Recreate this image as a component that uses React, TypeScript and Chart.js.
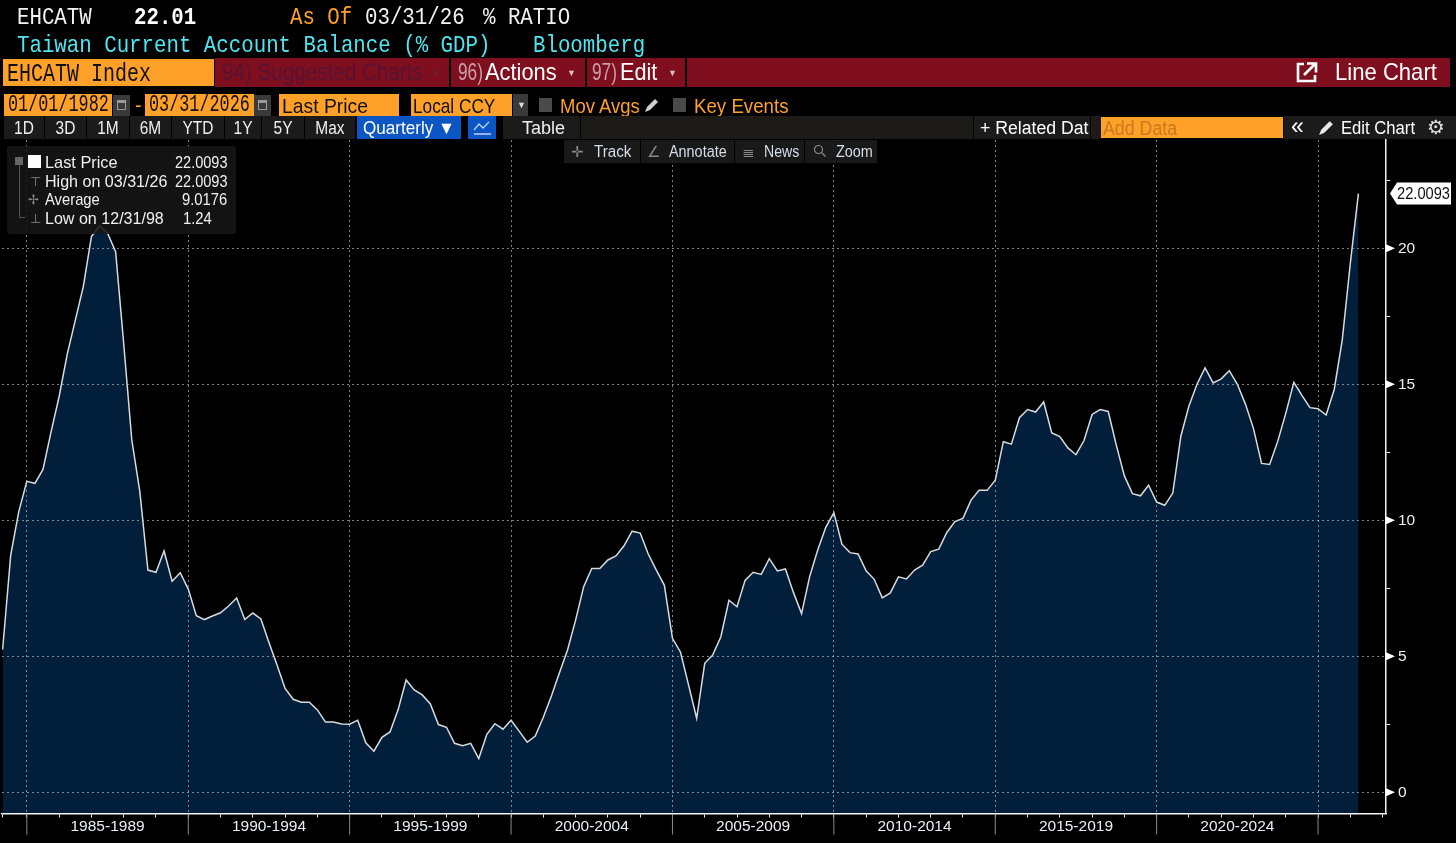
import React, { useEffect, useRef } from "react";
import { Chart, registerables } from "chart.js";

Chart.register(...registerables);

// Quarterly % of GDP, 03/31/1984 to 03/31/2026
const values = [
  5.25, 8.72, 10.32, 11.43, 11.36, 11.87, 13.25, 14.55, 16.1, 17.35, 18.6, 20.43,
  20.82, 20.55, 19.87, 16.5, 12.96, 11.05, 8.17, 8.09, 8.87, 7.76, 8.07, 7.47,
  6.49, 6.35, 6.48, 6.6, 6.85, 7.14, 6.35, 6.59, 6.37, 5.51, 4.68, 3.82,
  3.42, 3.31, 3.31, 3.03, 2.58, 2.58, 2.51, 2.5, 2.65, 1.82, 1.51, 2.02,
  2.22, 3.03, 4.13, 3.76, 3.58, 3.25, 2.49, 2.39, 1.8, 1.71, 1.8, 1.24,
  2.13, 2.52, 2.32, 2.65, 2.25, 1.84, 2.07, 2.76, 3.54, 4.39, 5.23, 6.33,
  7.56, 8.23, 8.23, 8.54, 8.69, 9.06, 9.6, 9.53, 8.76, 8.17, 7.61, 5.66,
  5.15, 3.94, 2.72, 4.74, 5.05, 5.72, 7.06, 6.82, 7.79, 8.09, 8.01, 8.59,
  8.14, 8.21, 7.34, 6.57, 7.93, 8.91, 9.74, 10.28, 9.12, 8.81, 8.76, 8.14,
  7.83, 7.15, 7.33, 7.92, 7.84, 8.17, 8.35, 8.85, 8.94, 9.55, 9.95, 10.07,
  10.74, 11.1, 11.1, 11.47, 12.89, 12.8, 13.77, 14.07, 13.98, 14.35, 13.21, 13.08,
  12.66, 12.41, 12.93, 13.89, 14.07, 14.0, 12.76, 11.63, 10.98, 10.9, 11.29, 10.67,
  10.55, 11.0, 13.09, 14.2, 15.0, 15.6, 15.05, 15.2, 15.5, 15.0, 14.27, 13.37,
  12.09, 12.05, 12.9, 13.93, 15.07, 14.59, 14.14, 14.1, 13.87, 14.8, 16.63, 19.45, 22.0093,
];
const periodLabels = ["1985-1989", "1990-1994", "1995-1999", "2000-2004", "2005-2009", "2010-2014", "2015-2019", "2020-2024"];
const yTicks = [0, 2.5, 5, 7.5, 10, 12.5, 15, 17.5, 20, 22.5];
const periodStarts = [3, 23, 43, 63, 83, 103, 123, 143, 163];
const yearMarks = [0, 3, 7, 11, 15, 19, 23, 27, 31, 35, 39, 43, 47, 51, 55, 59, 63, 67, 71, 75, 79, 83, 87, 91, 95, 99, 103, 107, 111, 115, 119, 123, 127, 131, 135, 139, 143, 147, 151, 155, 159, 163, 167, 171];
const lastValueText = "22.0093";

const SANS = '"Liberation Sans", Arial, sans-serif';
const MONO = '"Liberation Mono", monospace';

const chromePlugin = {
  id: "chrome",
  afterDraw(chart: any) {
    const { ctx, scales } = chart;
    const x = scales.x;
    const y = scales.y;
    const axisY = y.bottom;
    ctx.save();
    ctx.strokeStyle = "#8a8a8a";
    ctx.lineWidth = 1;
    periodStarts.forEach((p) => {
      const px = x.getPixelForValue(p);
      ctx.beginPath();
      ctx.moveTo(px, axisY + 1);
      ctx.lineTo(px, axisY + 21);
      ctx.stroke();
    });
    ctx.fillStyle = "#ffffff";
    yTicks.filter((t) => t % 5 === 0).forEach((t) => {
      const py = y.getPixelForValue(t);
      ctx.beginPath();
      ctx.moveTo(x.right, py - 4);
      ctx.lineTo(x.right + 9, py);
      ctx.lineTo(x.right, py + 4);
      ctx.closePath();
      ctx.fill();
    });
    const last = values[values.length - 1];
    const ly = y.getPixelForValue(last);
    const tx = x.right + 4;
    ctx.beginPath();
    ctx.moveTo(tx, ly);
    ctx.lineTo(tx + 7, ly - 11);
    ctx.lineTo(tx + 61, ly - 11);
    ctx.lineTo(tx + 61, ly + 11);
    ctx.lineTo(tx + 7, ly + 11);
    ctx.closePath();
    ctx.fill();
    ctx.fillStyle = "#101010";
    ctx.font = `17px ${SANS}`;
    ctx.textAlign = "left";
    ctx.textBaseline = "middle";
    ctx.fillText(lastValueText, tx + 7, ly + 0.5, 53);
    ctx.restore();
  },
};

function T({ x, y, c = "#fff", s = 17, f = SANS, sx = 1, b = false, children }: any) {
  return (
    <span
      style={{
        position: "absolute", left: x, top: y, color: c, fontSize: s, fontFamily: f,
        fontWeight: b ? 700 : 400, whiteSpace: "pre", lineHeight: 1,
        transform: `translateY(-50%) scaleX(${sx})`, transformOrigin: "left center",
      }}
    >
      {children}
    </span>
  );
}

function Box({ x, y, w, h, c }: any) {
  return <div style={{ position: "absolute", left: x, top: y, width: w, height: h, background: c }} />;
}

const ORANGE = "#ffa028";
const DARK = "#1b1b1b";
const RED = "#7f0f1e";
const timeButtons: [string, number, number][] = [
  ["1D", 4, 40], ["3D", 45, 41], ["1M", 87, 42], ["6M", 130, 41], ["YTD", 172, 52],
  ["1Y", 225, 36], ["5Y", 262, 42], ["Max", 305, 50],
];

function Cal({ x }: any) {
  return (
    <>
      <Box x={x} y={95} w={17} h={21} c="#3a3a3a" />
      <Box x={x + 4} y={100} w={9} h={10} c="#9a9a9a" />
      <Box x={x + 5} y={103} w={7} h={6} c="#3a3a3a" />
    </>
  );
}

function Header() {
  return (
    <div style={{ position: "absolute", inset: 0, overflow: "hidden" }}>
      <T x={17} y={18} s={24} f={MONO} sx={0.865} c="#f2f2f2">EHCATW</T>
      <T x={134} y={18} s={24} f={MONO} sx={0.865} b>22.01</T>
      <T x={290} y={18} s={24} f={MONO} sx={0.865} c={ORANGE}>As Of</T>
      <T x={365} y={18} s={24} f={MONO} sx={0.865} c="#f2f2f2">03/31/26</T>
      <T x={483} y={18} s={24} f={MONO} sx={0.865} c="#f2f2f2">% RATIO</T>
      <T x={17} y={46} s={24} f={MONO} sx={0.865} c="#4fe6f2">Taiwan Current Account Balance (% GDP)</T>
      <T x={533} y={46} s={24} f={MONO} sx={0.865} c="#4fe6f2">Bloomberg</T>

      <Box x={215} y={58} w={1235} h={29} c={RED} />
      <Box x={3} y={59} w={211} h={27} c={ORANGE} />
      <T x={7} y={74} s={25} f={MONO} sx={0.8} c="#111">EHCATW Index</T>
      <Box x={449} y={58} w={2} h={29} c="#000" />
      <Box x={585} y={58} w={2} h={29} c="#000" />
      <Box x={685} y={58} w={2} h={29} c="#000" />
      <T x={222} y={72} s={24} sx={0.86} c="#561332">94) Suggested Charts</T>
      <T x={431} y={73} s={9} c="#6a2038">▼</T>
      <T x={458} y={72} s={24} sx={0.72} c="#c8a0a8">96)</T>
      <T x={485} y={72} s={24} sx={0.91}>Actions</T>
      <T x={567} y={73} s={9} c="#d8c0c4">▼</T>
      <T x={592} y={72} s={24} sx={0.72} c="#c8a0a8">97)</T>
      <T x={620} y={72} s={24} sx={0.9}>Edit</T>
      <T x={668} y={73} s={9} c="#d8c0c4">▼</T>
      <svg style={{ position: "absolute", left: 1296, top: 61 }} width="22" height="22" viewBox="0 0 22 22" fill="none" stroke="#fff" strokeWidth="2.6">
        <path d="M8 3H2v17h17v-6" />
        <path d="M8 14 19 3M11 2.5h9v9" />
      </svg>
      <T x={1335} y={72} s={24} sx={0.92}>Line Chart</T>

      <Box x={4} y={94} w={108} h={22} c={ORANGE} />
      <T x={8} y={105} s={24} f={MONO} sx={0.7} c="#111">01/01/1982</T>
      <Cal x={113} />
      <T x={135} y={105} s={20} c={ORANGE}>-</T>
      <Box x={145} y={94} w={109} h={22} c={ORANGE} />
      <T x={149} y={105} s={24} f={MONO} sx={0.7} c="#111">03/31/2026</T>
      <Cal x={254} />
      <Box x={279} y={94} w={120} h={22} c={ORANGE} />
      <T x={282} y={104.5} s={21} sx={0.92} c="#111">Last Price</T>
      <Box x={411} y={94} w={101} h={22} c={ORANGE} />
      <T x={413} y={104.5} s={21} sx={0.82} c="#111">Local CCY</T>
      <Box x={513} y={94} w={15} h={22} c="#3a3a3a" />
      <T x={517} y={105} s={9} c="#ddd">▼</T>
      <Box x={539} y={98} w={13} h={14} c="#4a4a4a" />
      <T x={560} y={104.5} s={21} sx={0.88} c={ORANGE}>Mov Avgs</T>
      <svg style={{ position: "absolute", left: 644, top: 97 }} width="16" height="16" viewBox="0 0 16 16" fill="#d0d0d0">
        <path d="M1 15l2-5 8-8 3 3-8 8z" />
      </svg>
      <Box x={673} y={98} w={13} h={14} c="#4a4a4a" />
      <T x={694} y={104.5} s={21} sx={0.89} c={ORANGE}>Key Events</T>

      {timeButtons.map(([label, x, w]) => (
        <React.Fragment key={label}>
          <Box x={x} y={116} w={w} h={23} c={DARK} />
          <span style={{ position: "absolute", left: x, width: w, top: 127.5, transform: "translateY(-50%) scaleX(0.86)", textAlign: "center", color: "#eee", fontSize: 18, fontFamily: SANS, lineHeight: 1 }}>{label}</span>
        </React.Fragment>
      ))}
      <Box x={357} y={116} w={104} h={23} c="#0b56c4" />
      <T x={363} y={127.5} s={18} sx={0.95}>Quarterly ▼</T>
      <Box x={468} y={116} w={28} h={23} c="#0b56c4" />
      <svg style={{ position: "absolute", left: 473, top: 119 }} width="19" height="17" viewBox="0 0 19 17" fill="none" stroke="#bcd4ff" strokeWidth="1.3">
        <path d="M1 11l5-6 4 4 6-6M1 15h17" />
      </svg>
      <Box x={503} y={116} w={77} h={23} c={DARK} />
      <T x={522} y={127.5} s={18} c="#eee">Table</T>
      <Box x={581} y={116} w={392} h={23} c="#1d1b18" />
      <Box x={974} y={116} w={116} h={23} c={DARK} />
      <T x={980} y={127.5} s={18} sx={0.98}>+ Related Dat</T>
      <Box x={1091} y={116} w={10} h={23} c="#1d1b18" />
      <Box x={1101} y={117} w={182} h={21} c={ORANGE} />
      <T x={1103} y={127.5} s={20} sx={0.89} c="#c87a20">Add Data</T>
      <Box x={1284} y={116} w={172} h={23} c={DARK} />
      <T x={1291} y={126} s={23}>«</T>
      <svg style={{ position: "absolute", left: 1318, top: 119 }} width="17" height="17" viewBox="0 0 16 16" fill="#e8e8e8">
        <path d="M1 15l2-5 8-8 3 3-8 8z" />
      </svg>
      <T x={1341} y={127.5} s={18} sx={0.925}>Edit Chart</T>
      <T x={1427} y={127} s={20} f='"DejaVu Sans", sans-serif' c="#ddd">⚙</T>

      <div style={{ position: "absolute", left: 564, top: 140, width: 76, height: 23, background: "rgba(28,28,28,0.9)" }} />
      <div style={{ position: "absolute", left: 641, top: 140, width: 93, height: 23, background: "rgba(28,28,28,0.9)" }} />
      <div style={{ position: "absolute", left: 735, top: 140, width: 69, height: 23, background: "rgba(28,28,28,0.9)" }} />
      <div style={{ position: "absolute", left: 805, top: 140, width: 72, height: 23, background: "rgba(28,28,28,0.9)" }} />
      <T x={571} y={151} s={15} c="#8a8a8a">✛</T>
      <T x={594} y={151.5} s={16} sx={0.95} c="#d4dde6">Track</T>
      <T x={647} y={151} s={15} c="#8a8a8a">∠</T>
      <T x={669} y={151.5} s={16} sx={0.9} c="#d4dde6">Annotate</T>
      <T x={742} y={151} s={15} c="#8a8a8a">≣</T>
      <T x={764} y={151.5} s={16} sx={0.88} c="#d4dde6">News</T>
      <svg style={{ position: "absolute", left: 813, top: 144 }} width="14" height="14" viewBox="0 0 14 14" fill="none" stroke="#8a8a8a" strokeWidth="1.2">
        <circle cx="5.5" cy="5.5" r="4" />
        <path d="M8.5 8.5l4 4" />
      </svg>
      <T x={836} y={151.5} s={16} sx={0.9} c="#d4dde6">Zoom</T>

      <div style={{ position: "absolute", left: 7, top: 146, width: 229, height: 88, background: "rgba(22,22,22,0.88)", borderRadius: 3 }} />
      <Box x={15} y={157} w={8} h={8} c="#666" />
      <Box x={19} y={165} w={1} h={52} c="#555" />
      <Box x={19} y={217} w={6} h={1} c="#555" />
      <Box x={28} y={155} w={13} h={13} c="#fff" />
      <T x={30} y={181} s={13} c="#888">⊤</T>
      <T x={28} y={199} s={13} c="#888">✢</T>
      <T x={30} y={218} s={13} c="#888">⊥</T>
      <T x={45} y={162} s={17} sx={0.96} c="#f0f0f0">Last Price</T>
      <T x={45} y={181} s={17} sx={0.945} c="#f0f0f0">High on 03/31/26</T>
      <T x={45} y={199} s={17} sx={0.87} c="#f0f0f0">Average</T>
      <T x={45} y={218} s={17} sx={0.945} c="#f0f0f0">Low on 12/31/98</T>
      <T x={175} y={162} s={17} sx={0.855} c="#f0f0f0">22.0093</T>
      <T x={175} y={181} s={17} sx={0.855} c="#f0f0f0">22.0093</T>
      <T x={182} y={199} s={17} sx={0.87} c="#f0f0f0">9.0176</T>
      <T x={183} y={218} s={17} sx={0.87} c="#f0f0f0">1.24</T>
    </div>
  );
}

export default function App() {
  const ref = useRef<HTMLCanvasElement>(null);
  useEffect(() => {
    document.body.style.margin = "0";
    document.body.style.background = "#000";
    const labelAt = new Map(periodLabels.map((l, i) => [periodStarts[i] + 10, l]));
    const GRID = "rgba(205,205,205,0.62)";
    const chart = new Chart(ref.current!, {
      type: "line",
      data: {
        datasets: [
          {
            data: values.map((v, i) => ({ x: i, y: v })),
            borderColor: "#d8dbde",
            borderWidth: 1.5,
            pointRadius: 0,
            tension: 0,
            fill: "start",
            backgroundColor: "#011e3a",
          },
        ],
      },
      options: {
        animation: false,
        responsive: false,
        devicePixelRatio: 1,
        layout: { padding: { left: 2, top: 140, right: 0, bottom: 0 } },
        plugins: { legend: { display: false }, tooltip: { enabled: false } },
        scales: {
          x: {
            type: "linear",
            position: "bottom",
            min: -0.08,
            max: 171.42,
            afterFit(s: any) { s.height = 29.5; },
            afterBuildTicks(s: any) {
              s.ticks = [...yearMarks, ...labelAt.keys()].sort((a, b) => a - b).map((value) => ({ value }));
            },
            grid: {
              z: 1,
              lineWidth: 1,
              tickLength: 4,
              color: (c: any) => (periodStarts.includes(c.tick?.value) ? GRID : "transparent"),
              tickColor: (c: any) => (yearMarks.includes(c.tick?.value) ? "#f0f0f0" : "transparent"),
            },
            border: { display: true, color: "#f4f4f4", width: 1.5, dash: [2, 3], z: 1 },
            ticks: {
              autoSkip: false,
              maxRotation: 0,
              padding: 0,
              color: "#e8eff6",
              font: { family: SANS, size: 15.5 },
              callback: (v: any) => labelAt.get(v) ?? "",
            },
          },
          y: {
            type: "linear",
            position: "right",
            min: -0.78,
            max: 23.98,
            afterFit(s: any) { s.width = 70; },
            afterBuildTicks(s: any) { s.ticks = yTicks.map((value) => ({ value })); },
            grid: {
              z: 1,
              lineWidth: 1,
              tickLength: 4,
              color: (c: any) => (c.tick?.value % 5 === 0 ? GRID : "transparent"),
              tickColor: "#f0f0f0",
            },
            border: { display: true, color: "#f4f4f4", width: 1.5, dash: [2, 3], z: 1 },
            ticks: {
              autoSkip: false,
              padding: 8,
              color: "#e8eff6",
              font: { family: SANS, size: 15.5 },
              callback: (v: any) => (v % 5 === 0 ? String(v) : ""),
            },
          },
        },
      },
      plugins: [chromePlugin],
    } as any);
    return () => chart.destroy();
  }, []);
  return (
    <div style={{ position: "fixed", left: 0, top: 0, width: 1456, height: 843, background: "#000", overflow: "hidden" }}>
      <canvas ref={ref} width={1456} height={843} style={{ position: "absolute", left: 0, top: 0, display: "block" }} />
      <Header />
    </div>
  );
}
